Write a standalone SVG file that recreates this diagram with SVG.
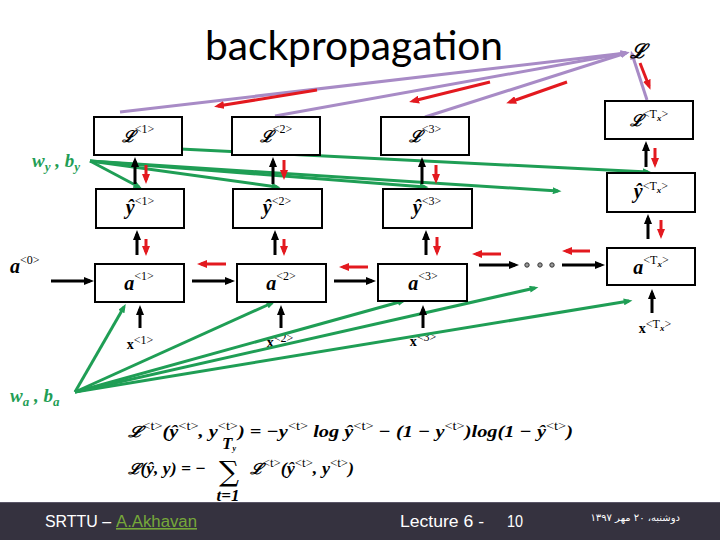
<svg xmlns="http://www.w3.org/2000/svg" width="720" height="540" viewBox="0 0 720 540">
<style>
.box{fill:#fff;stroke:#000;stroke-width:2}
.m{font-family:"Liberation Serif","DejaVu Serif",serif;font-weight:bold;font-style:italic;font-size:20px;fill:#000}
.L{font-size:16px}
.s{font-size:12px;font-style:normal;font-weight:normal}
.sx{font-size:9px;font-style:italic;font-weight:bold}
.xl{font-family:"Liberation Serif","DejaVu Serif",serif;font-weight:bold;font-size:14px;fill:#000}
.gl{font-family:"Liberation Serif","DejaVu Serif",serif;font-style:italic;font-weight:bold;font-size:19px;fill:#1f9e55}
.k{stroke:#000;stroke-width:3;fill:none;marker-end:url(#hk)}
.r{stroke:#e3191f;stroke-width:3;fill:none;marker-end:url(#hr)}
.g{stroke:#1f9e55;stroke-width:3;fill:none;marker-end:url(#hg)}
.p{stroke:#a88bc6;stroke-width:3;fill:none;marker-end:url(#hp)}
.f{font-family:"Liberation Serif","DejaVu Serif",serif;font-weight:bold;font-style:italic;font-size:17px;fill:#000}
.ft{font-family:"Liberation Sans",Arial,sans-serif;font-size:16px;fill:#fff}
</style>
<defs>
<marker id="hk" markerUnits="userSpaceOnUse" viewBox="0 0 10 8" markerWidth="10" markerHeight="8" refX="6" refY="4" orient="auto"><path d="M0,0 L10,4 L0,8 z" fill="#000"/></marker>
<marker id="hr" markerUnits="userSpaceOnUse" viewBox="0 0 10 8" markerWidth="10" markerHeight="8" refX="6" refY="4" orient="auto"><path d="M0,0 L10,4 L0,8 z" fill="#e3191f"/></marker>
<marker id="hg" markerUnits="userSpaceOnUse" viewBox="0 0 10 8" markerWidth="9" markerHeight="7" refX="6" refY="4" orient="auto"><path d="M0,0 L10,4 L0,8 z" fill="#1f9e55"/></marker>
<marker id="hp" markerUnits="userSpaceOnUse" viewBox="0 0 10 8" markerWidth="9" markerHeight="7" refX="6" refY="4" orient="auto"><path d="M0,0 L10,4 L0,8 z" fill="#a88bc6"/></marker>
</defs>
<rect width="720" height="540" fill="#fff"/>

<text x="205" y="60" font-family="Lato,'Open Sans',sans-serif" font-size="40" textLength="298" lengthAdjust="spacingAndGlyphs">backpropagation</text>

<g id="x1"><text class="xl" x="140" y="349" text-anchor="middle">x<tspan class="s" dy="-5">&lt;1&gt;</tspan></text></g>
<g id="x2"><text class="xl" x="280" y="347" text-anchor="middle">x<tspan class="s" dy="-5">&lt;2&gt;</tspan></text></g>
<g id="x3"><text class="xl" x="423" y="346" text-anchor="middle">x<tspan class="s" dy="-5">&lt;3&gt;</tspan></text></g>
<g id="xTx"><text class="xl" x="655" y="333" text-anchor="middle">x<tspan class="s" dy="-5">&lt;</tspan><tspan class="s" font-style="italic">T</tspan><tspan class="sx" dy="3">x</tspan><tspan class="s" dy="-3">&gt;</tspan></text></g>

<g id="connectors">
<line class="p" x1="120" y1="112" x2="626" y2="53"/>
<line class="p" x1="275" y1="116" x2="626" y2="53"/>
<line class="p" x1="425" y1="117" x2="626" y2="53"/>
<line class="p" x1="647" y1="100" x2="632" y2="54"/>
<line class="r" x1="317" y1="90" x2="218" y2="106"/>
<line class="r" x1="490" y1="82" x2="413" y2="101"/>
<line class="r" x1="567" y1="82" x2="510" y2="102"/>
<line class="r" x1="640" y1="63" x2="649" y2="86"/>
<line class="g" x1="90" y1="161" x2="139" y2="187"/>
<line class="g" x1="90" y1="161" x2="277" y2="187"/>
<line class="g" x1="90" y1="161" x2="425" y2="187"/>
<line class="g" x1="90" y1="161" x2="558" y2="191"/>
<line class="g" x1="140" y1="147" x2="648" y2="172"/>
<line class="g" x1="75" y1="392" x2="124" y2="307"/>
<line class="g" x1="75" y1="392" x2="272" y2="303"/>
<line class="g" x1="75" y1="392" x2="403" y2="301"/>
<line class="g" x1="75" y1="392" x2="535" y2="288"/>
<line class="g" x1="75" y1="392" x2="629" y2="301"/>
<line class="k" x1="51" y1="281" x2="90" y2="281"/>
<line class="k" x1="192" y1="281" x2="231" y2="281"/>
<line class="k" x1="334" y1="281" x2="372" y2="281"/>
<line class="k" x1="479" y1="265" x2="515" y2="265"/>
<line class="k" x1="562" y1="265" x2="601" y2="265"/>
<circle cx="527" cy="265" r="2.2" fill="#999" stroke="#333" stroke-width="1"/>
<circle cx="540" cy="265" r="2.2" fill="#999" stroke="#333" stroke-width="1"/>
<circle cx="552" cy="265" r="2.2" fill="#999" stroke="#333" stroke-width="1"/>
<line class="r" x1="226" y1="264" x2="201" y2="264"/>
<line class="r" x1="368" y1="267" x2="343" y2="267"/>
<line class="r" x1="501" y1="254" x2="476" y2="254"/>
<line class="r" x1="590" y1="251" x2="566" y2="251"/>
<line class="k" x1="137" y1="255" x2="137" y2="234"/>
<line class="k" x1="275" y1="255" x2="275" y2="234"/>
<line class="k" x1="426" y1="255" x2="426" y2="234"/>
<line class="k" x1="648" y1="239" x2="648" y2="218"/>
<line class="r" x1="146" y1="239" x2="146" y2="252"/>
<line class="r" x1="284" y1="239" x2="284" y2="252"/>
<line class="r" x1="437" y1="237" x2="437" y2="252"/>
<line class="r" x1="661" y1="220" x2="661" y2="235"/>
<line class="k" x1="135" y1="184" x2="135" y2="161"/>
<line class="k" x1="273" y1="184" x2="273" y2="161"/>
<line class="k" x1="422" y1="184" x2="422" y2="161"/>
<line class="k" x1="646" y1="167" x2="646" y2="145"/>
<line class="r" x1="146" y1="165" x2="146" y2="180"/>
<line class="r" x1="284" y1="160" x2="284" y2="176"/>
<line class="r" x1="436" y1="165" x2="436" y2="180"/>
<line class="r" x1="655" y1="148" x2="655" y2="164"/>
<line class="k" x1="140" y1="328" x2="140" y2="309"/>
<line class="k" x1="281" y1="328" x2="281" y2="309"/>
<line class="k" x1="423" y1="328" x2="423" y2="309"/>
<line class="k" x1="652" y1="313" x2="652" y2="293"/>
</g>

<g id="L1"><rect class="box" x="94" y="117" width="88" height="38"/><text class="m" x="138" y="142" text-anchor="middle"><tspan class="L">ℒ</tspan><tspan class="s" dy="-9">&lt;1&gt;</tspan></text></g>
<g id="L2"><rect class="box" x="232" y="117" width="88" height="38"/><text class="m" x="276" y="142" text-anchor="middle"><tspan class="L">ℒ</tspan><tspan class="s" dy="-9">&lt;2&gt;</tspan></text></g>
<g id="L3"><rect class="box" x="381" y="117" width="88" height="38"/><text class="m" x="425" y="142" text-anchor="middle"><tspan class="L">ℒ</tspan><tspan class="s" dy="-9">&lt;3&gt;</tspan></text></g>
<g id="LTx"><rect class="box" x="605" y="101" width="88" height="38"/><text class="m" x="649" y="126" text-anchor="middle"><tspan class="L">ℒ</tspan><tspan class="s" dy="-8">&lt;</tspan><tspan class="s" font-style="italic" font-weight="bold">T</tspan><tspan class="sx" dy="3">x</tspan><tspan class="s" dy="-3">&gt;</tspan></text></g>

<g id="yhat1"><rect class="box" x="96" y="189" width="88" height="39"/><text class="m" x="140" y="214" text-anchor="middle">ŷ<tspan class="s" dy="-9">&lt;1&gt;</tspan></text></g>
<g id="yhat2"><rect class="box" x="233" y="189" width="89" height="39"/><text class="m" x="277" y="214" text-anchor="middle">ŷ<tspan class="s" dy="-9">&lt;2&gt;</tspan></text></g>
<g id="yhat3"><rect class="box" x="383" y="189" width="89" height="39"/><text class="m" x="427" y="214" text-anchor="middle">ŷ<tspan class="s" dy="-9">&lt;3&gt;</tspan></text></g>
<g id="yhatTx"><rect class="box" x="607" y="173" width="88" height="39"/><text class="m" x="651" y="198" text-anchor="middle" font-size="18">ŷ<tspan class="s" dy="-8">&lt;</tspan><tspan class="s" font-style="italic" font-weight="bold">T</tspan><tspan class="sx" dy="3">x</tspan><tspan class="s" dy="-3">&gt;</tspan></text></g>

<g id="a1"><rect class="box" x="95" y="264" width="89" height="38"/><text class="m" x="139" y="290" text-anchor="middle">a<tspan class="s" dy="-10">&lt;1&gt;</tspan></text></g>
<g id="a2"><rect class="box" x="237" y="264" width="89" height="38"/><text class="m" x="281" y="290" text-anchor="middle">a<tspan class="s" dy="-10">&lt;2&gt;</tspan></text></g>
<g id="a3"><rect class="box" x="378" y="264" width="89" height="37"/><text class="m" x="423" y="290" text-anchor="middle">a<tspan class="s" dy="-10">&lt;3&gt;</tspan></text></g>
<g id="aTx"><rect class="box" x="607" y="248" width="88" height="37"/><text class="m" x="651" y="274" text-anchor="middle">a<tspan class="s" dy="-10">&lt;</tspan><tspan class="s" font-style="italic" font-weight="bold">T</tspan><tspan class="sx" dy="3">x</tspan><tspan class="s" dy="-3">&gt;</tspan></text></g>

<g id="a0"><text class="m" x="10" y="273">a<tspan class="s" font-weight="bold" dy="-9">&lt;0&gt;</tspan></text></g>
<g id="L"><text class="m" x="630" y="58" font-size="22">ℒ</text></g>
<g id="wy"><text class="gl" x="32" y="167">w<tspan font-size="13" dy="4">y</tspan><tspan dy="-4"> , b</tspan><tspan font-size="13" dy="4">y</tspan></text></g>
<g id="wa"><text class="gl" x="10" y="402" font-weight="normal">w<tspan font-size="13" dy="4">a</tspan><tspan dy="-4"> , b</tspan><tspan font-size="13" dy="4">a</tspan></text></g>

<g id="formula1"><text class="f" x="128" y="437" textLength="445" lengthAdjust="spacingAndGlyphs"><tspan font-size="15">ℒ</tspan><tspan class="s" dy="-7">&lt;t&gt;</tspan><tspan dy="7">(ŷ</tspan><tspan class="s" dy="-7">&lt;t&gt;</tspan><tspan dy="7">, y</tspan><tspan class="s" dy="-7">&lt;t&gt;</tspan><tspan dy="7">) = −y</tspan><tspan class="s" dy="-7">&lt;t&gt;</tspan><tspan dy="7"> log  ŷ</tspan><tspan class="s" dy="-7">&lt;t&gt;</tspan><tspan dy="7"> − (1 − y</tspan><tspan class="s" dy="-7">&lt;t&gt;</tspan><tspan dy="7">)log(1 − ŷ</tspan><tspan class="s" dy="-7">&lt;t&gt;</tspan><tspan dy="7">)</tspan></text></g>
<g id="formula2">
<text class="f" x="128" y="474" textLength="78" lengthAdjust="spacingAndGlyphs"><tspan font-size="15">ℒ</tspan>(ŷ, y) = −</text>
<text x="229" y="481" font-family="'DejaVu Serif','Liberation Serif',serif" font-size="28" text-anchor="middle">∑</text>
<text class="f" x="229" y="449" font-size="11" text-anchor="middle">T<tspan font-size="8" dy="2">y</tspan></text>
<text class="f" x="228" y="501" font-size="11" text-anchor="middle" font-style="normal">t=1</text>
<text class="f" x="250" y="474" textLength="104" lengthAdjust="spacingAndGlyphs"><tspan font-size="15">ℒ</tspan><tspan class="s" dy="-7">&lt;t&gt;</tspan><tspan dy="7">(ŷ</tspan><tspan class="s" dy="-7">&lt;t&gt;</tspan><tspan dy="7">, y</tspan><tspan class="s" dy="-7">&lt;t&gt;</tspan><tspan dy="7">)</tspan></text>
</g>

<g id="footer">
<rect x="0" y="502" width="720" height="38" fill="#35323f"/>
<line x1="0" y1="502.5" x2="720" y2="502.5" stroke="#5a5668" stroke-width="1"/>
<text class="ft" x="45" y="527" textLength="66" lengthAdjust="spacingAndGlyphs">SRTTU –</text>
<text class="ft" x="116" y="527" style="fill:#76a83a" text-decoration="underline" textLength="81" lengthAdjust="spacingAndGlyphs">A.Akhavan</text>
<text class="ft" x="400" y="527" textLength="84" lengthAdjust="spacingAndGlyphs">Lecture 6 -</text>
<text class="ft" x="507" y="527" textLength="16" lengthAdjust="spacingAndGlyphs">10</text>
<text x="680" y="521" font-family="'DejaVu Sans','Noto Sans',sans-serif" font-size="10" fill="#fff" text-anchor="start" direction="rtl">دوشنبه، ۲۰ مهر ۱۳۹۷</text>
</g>
</svg>
